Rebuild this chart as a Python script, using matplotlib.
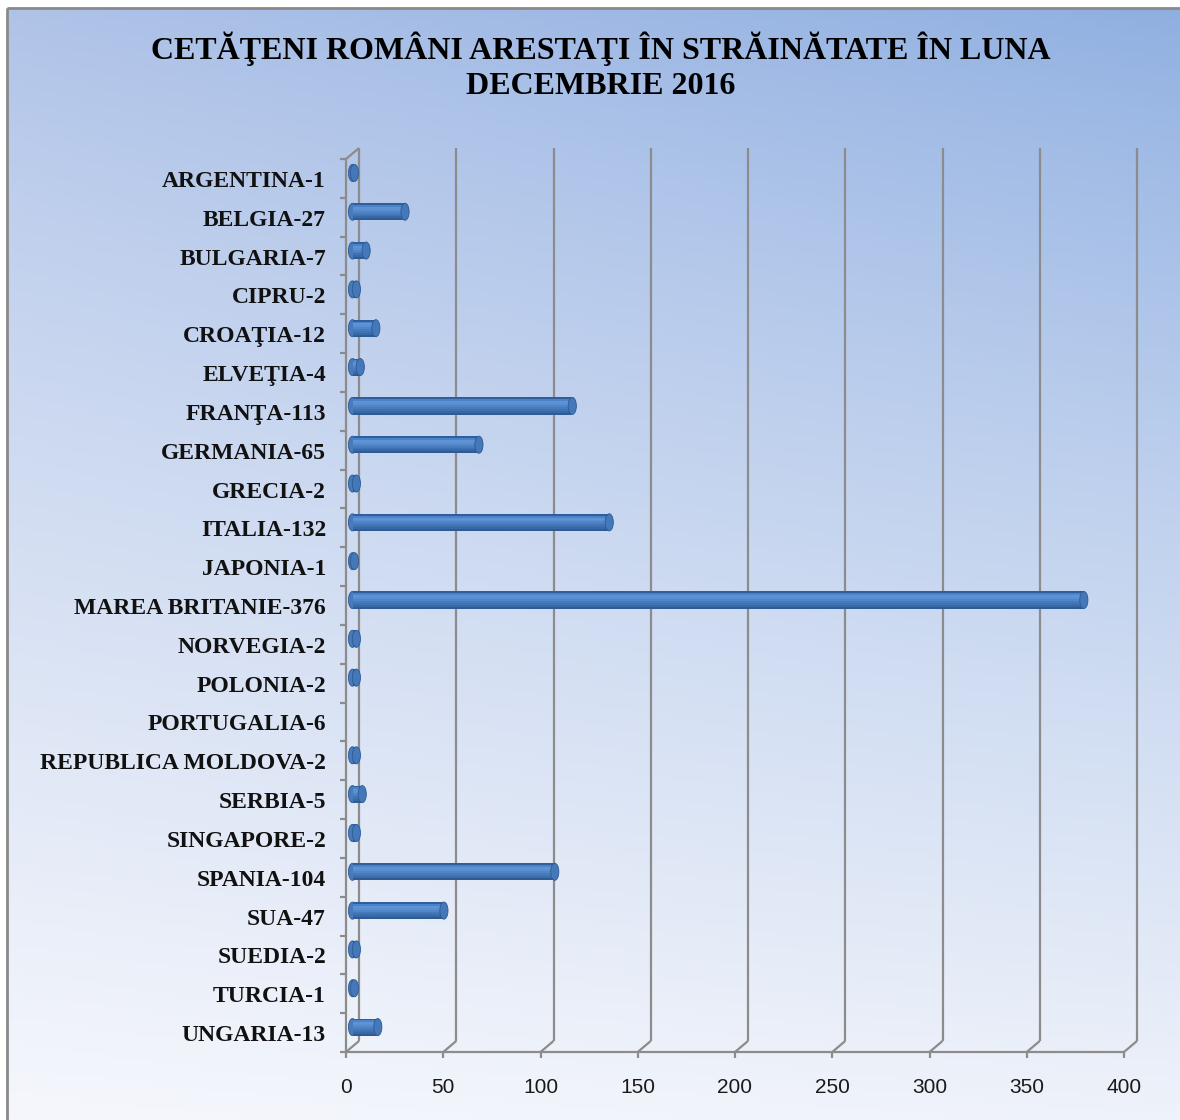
"""Romanian citizens arrested abroad, December 2016 - Excel style 3D cylinder bar chart."""

import matplotlib

matplotlib.use("Agg")
import matplotlib.pyplot as plt
import numpy as np
from matplotlib.lines import Line2D
from matplotlib.patches import Ellipse, Rectangle
from matplotlib.transforms import IdentityTransform, ScaledTranslation


W, H, DPI = 1180, 1120, 100

TITLE_LINES = ["CETĂŢENI ROMÂNI ARESTAŢI ÎN STRĂINĂTATE ÎN LUNA", "DECEMBRIE 2016"]

COUNTRIES = [
    "ARGENTINA", "BELGIA", "BULGARIA", "CIPRU", "CROAŢIA", "ELVEŢIA",
    "FRANŢA", "GERMANIA", "GRECIA", "ITALIA", "JAPONIA", "MAREA BRITANIE",
    "NORVEGIA", "POLONIA", "PORTUGALIA", "REPUBLICA MOLDOVA", "SERBIA",
    "SINGAPORE", "SPANIA", "SUA", "SUEDIA", "TURCIA", "UNGARIA",
]
COUNTS = [1, 27, 7, 2, 12, 4, 113, 65, 2, 132, 1, 376,
          2, 2, 6, 2, 5, 2, 104, 47, 2, 1, 13]
# the original chart shows no bar for Portugalia, only its label
NO_BAR = ["PORTUGALIA"]
XTICKS = [0, 50, 100, 150, 200, 250, 300, 350, 400]

GRID = "#8c8c8c"
SERIF = ["Liberation Serif", "DejaVu Serif"]
SANS = ["Liberation Sans", "DejaVu Sans"]
# top -> bottom shading of a cylinder
CYL = ["#2f5e9c", "#4c82c6", "#5e93d7", "#5a8fd2", "#5085c7", "#477bbc",
       "#4072b2", "#3968a6", "#2f5b95"]

# 3D depth of the plot box, in pixels (back wall is shifted right/up)
DEPTH_X, DEPTH_Y = 13, 11


def background(fig):
    bg = fig.add_axes([0, 0, 1, 1], zorder=-10)
    bg.set_xlim(0, W)
    bg.set_ylim(H, 0)
    bg.axis("off")
    tl, tr = np.array([0xAF, 0xC3, 0xE8]), np.array([0x8F, 0xAF, 0xE1])
    bl, br = np.array([0xF5, 0xF7, 0xFC]), np.array([0xEE, 0xF2, 0xFA])
    u = np.linspace(0, 1, 200)[None, :, None]
    v = np.linspace(0, 1, 200)[:, None, None] ** 0.85
    img = (1 - v) * ((1 - u) * tl + u * tr) + v * ((1 - u) * bl + u * br)
    bg.imshow(img / 255.0, extent=(7, W, H, 8), aspect="auto", zorder=0)
    bg.add_patch(Rectangle((7, 8), W, H, fill=False, edgecolor="#8a8a8a", lw=2, zorder=1))


def px_line(fig, p0, p1, **kw):
    fig.add_artist(Line2D([p0[0], p1[0]], [p0[1], p1[1]], transform=IdentityTransform(), **kw))


def main():
    fig = plt.figure(figsize=(W / DPI, H / DPI), dpi=DPI)
    fig.patch.set_facecolor("white")
    background(fig)

    for line, ypx in zip(TITLE_LINES, [49, 86]):
        fig.text(601 / W, 1 - ypx / H, line, ha="center", va="center", family=SERIF,
                 weight="bold", fontsize=23)

    left, right, top, bottom = 346, 1124, 159, 1052
    ax = fig.add_axes([left / W, 1 - bottom / H, (right - left) / W, (bottom - top) / H])
    ax.axis("off")
    n = len(COUNTRIES)
    ax.set_xlim(0, 400)
    ax.set_ylim(n - 0.5, -0.5)
    fig.canvas.draw()

    to_px = ax.transData.transform
    back = ax.transData + ScaledTranslation(DEPTH_X / DPI, DEPTH_Y / DPI, fig.dpi_scale_trans)
    mid = ax.transData + ScaledTranslation(DEPTH_X / 2 / DPI, DEPTH_Y / 2 / DPI, fig.dpi_scale_trans)
    line_kw = dict(color=GRID, lw=1.6, solid_capstyle="butt")

    # back wall gridlines and floor diagonals
    tick_tr = ax.transData + ScaledTranslation(0, -0.26, fig.dpi_scale_trans)
    for k in XTICKS:
        ax.plot([k, k], [n - 0.5, -0.5], transform=back, clip_on=False, **line_kw)
        f = to_px((k, n - 0.5))
        px_line(fig, f, (f[0] + DEPTH_X, f[1] + DEPTH_Y), **line_kw)
        px_line(fig, f, (f[0], f[1] - 6), **line_kw)
        ax.text(k, n - 0.5, str(k), ha="center", va="top", family=SANS, fontsize=15,
                color="#1a1a1a", transform=tick_tr)

    # front box edges
    ax.plot([0, 400], [n - 0.5, n - 0.5], clip_on=False, **line_kw)
    ax.plot([0, 0], [n - 0.5, -0.5], clip_on=False, **line_kw)
    t = to_px((0, -0.5))
    px_line(fig, t, (t[0] + DEPTH_X, t[1] + DEPTH_Y), **line_kw)
    for i in range(n + 1):
        p = to_px((0, i - 0.5))
        px_line(fig, p, (p[0] - 6, p[1]), **line_kw)

    # category labels
    lab_tr = ax.get_yaxis_transform() + ScaledTranslation(-0.20, -0.03, fig.dpi_scale_trans)
    for i, (name, c) in enumerate(zip(COUNTRIES, COUNTS)):
        ax.text(0, i, f"{name}-{c}", ha="right", va="center", transform=lab_tr,
                family=SERIF, weight="bold", fontsize=17, color="#111111")

    # cylinder bars
    bar_h = 0.44
    cap_w = 4.2
    strip = bar_h / len(CYL)
    for i, (name, c) in enumerate(zip(COUNTRIES, COUNTS)):
        if name in NO_BAR:
            continue
        y0 = i - bar_h / 2
        ax.add_patch(Ellipse((0, i), cap_w, bar_h, facecolor="#477bbc", edgecolor="#2d5a95",
                             lw=0.6, transform=mid, clip_on=False, zorder=3))
        for j, col in enumerate(CYL):
            ax.add_patch(Rectangle((0, y0 + j * strip), c, strip * 1.05, facecolor=col,
                                   edgecolor="none", transform=mid, clip_on=False, zorder=4))
        ax.add_patch(Ellipse((c, i), cap_w, bar_h, facecolor="#4478b8",
                             edgecolor="#2d5a95", lw=0.6, transform=mid, clip_on=False, zorder=5))

    fig.savefig("out.png", dpi=DPI)
    plt.close(fig)


if __name__ == "__main__":
    main()
